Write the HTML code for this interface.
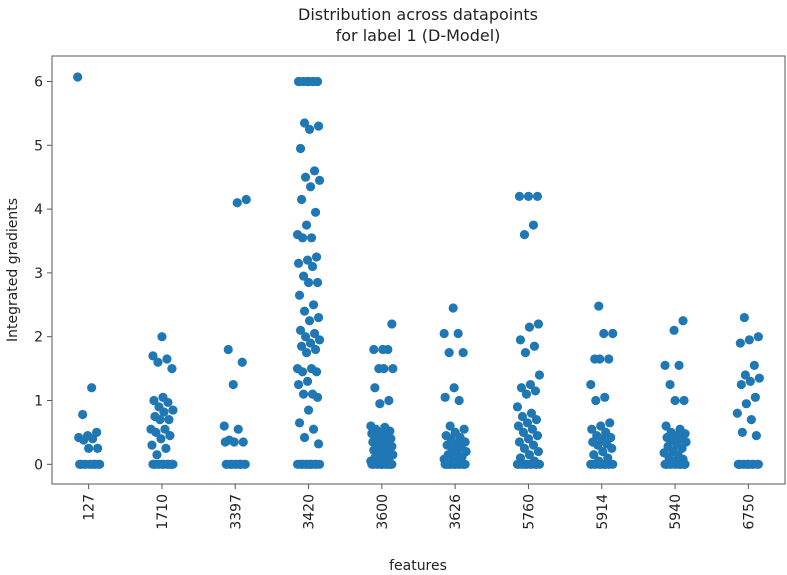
<!DOCTYPE html>
<html><head><meta charset="utf-8"><style>
body{margin:0;background:#fff;}
svg{display:block;font-family:"DejaVu Sans","Liberation Sans",sans-serif;}
</style></head><body>
<svg id="chart" width="787" height="575">
<text x="418" y="20" font-size="16" text-anchor="middle" fill="#222">Distribution across datapoints</text>
<text x="418" y="41" font-size="16" text-anchor="middle" fill="#222">for label 1 (D-Model)</text>
<text transform="translate(17,270) rotate(-90)" font-size="14" text-anchor="middle" fill="#222">Integrated gradients</text>
<text x="418" y="570" font-size="14" text-anchor="middle" fill="#222">features</text>
<g id="axes"></g>
<g id="marks"></g>
<rect x="52" y="56" width="733" height="428" fill="none" stroke="#555" stroke-width="1"/>
</svg>
<script>
const categories=["127","1710","3397","3420","3600","3626","5760","5914","5940","6750"];
const yTicks=[0,1,2,3,4,5,6];
const v127=[6.07,1.2,0.78,0.5,0.45,0.42,0.4,0.38,0.25,0.25,0,0,0,0,0,0,0,0,0,0,0,0];
const v1710=[2.0,1.7,1.65,1.6,1.5,1.05,1.0,0.97,0.9,0.85,0.82,0.75,0.7,0.7,0.55,0.55,0.5,0.45,0.4,0.3,0.25,0.15,0,0,0,0,0,0,0,0,0,0,0,0,0,0];
const v3397=[4.15,4.1,1.8,1.6,1.25,0.6,0.55,0.38,0.35,0.35,0.35,0,0,0,0,0,0,0,0,0,0,0,0];
const v3420=[6,6,6,6,6,6,6,6,5.35,5.3,5.25,4.95,4.6,4.5,4.45,4.35,4.15,3.95,3.75,3.6,3.55,3.55,3.25,3.2,3.15,3.1,2.95,2.85,2.85,2.65,2.5,2.4,2.3,2.25,2.1,2.05,2.0,1.95,1.9,1.85,1.8,1.75,1.5,1.5,1.45,1.45,1.3,1.25,1.1,1.1,1.05,0.85,0.65,0.55,0.42,0.32,0,0,0,0,0,0,0,0,0,0,0,0,0,0];
const v3600=[2.2,1.8,1.8,1.8,1.5,1.5,1.5,1.2,1.0,0.95,0.6,0.58,0.55,0.52,0.5,0.48,0.45,0.42,0.4,0.38,0.35,0.33,0.3,0.28,0.25,0.22,0.2,0.18,0.15,0.12,0.1,0.08,0.05,0.05,0.03,0.02,0,0,0,0,0,0,0,0,0,0,0,0,0,0];
const v3626=[2.45,2.05,2.05,1.75,1.75,1.2,1.05,1.0,0.6,0.55,0.5,0.45,0.42,0.4,0.35,0.32,0.3,0.28,0.25,0.2,0.18,0.15,0.12,0.1,0.08,0.05,0,0,0,0,0,0,0,0,0,0,0,0,0,0];
const v5760=[4.2,4.2,4.2,3.75,3.6,2.2,2.15,1.95,1.85,1.75,1.4,1.25,1.2,1.15,1.1,0.9,0.8,0.75,0.7,0.65,0.6,0.55,0.5,0.45,0.4,0.35,0.3,0.25,0.2,0.15,0.1,0.05,0,0,0,0,0,0,0,0,0,0,0,0];
const v5914=[2.48,2.05,2.05,1.65,1.65,1.65,1.25,1.05,1.0,0.65,0.6,0.55,0.5,0.45,0.42,0.4,0.35,0.32,0.3,0.25,0.2,0.15,0.1,0.05,0,0,0,0,0,0,0,0,0,0,0,0];
const v5940=[2.25,2.1,1.55,1.55,1.25,1.0,1.0,0.6,0.55,0.5,0.48,0.45,0.42,0.4,0.38,0.35,0.3,0.28,0.25,0.2,0.18,0.15,0.1,0.08,0.05,0,0,0,0,0,0,0,0,0,0,0,0];
const v6750=[2.3,2.0,1.95,1.9,1.55,1.4,1.35,1.3,1.25,1.05,0.95,0.8,0.7,0.5,0.45,0,0,0,0,0,0,0,0,0,0,0,0];
const seriesValues=[v127,v1710,v3397,v3420,v3600,v3626,v5760,v5914,v5940,v6750];

const NS="http://www.w3.org/2000/svg";
const L=52,R=785,T=56,B=484,Y0=464.3,PX=63.8;
const step=(R-L)/categories.length;
function xScale(i){return L+step*(i+0.5);}
function yScale(v){return Y0-v*PX;}
const axes=document.getElementById('axes'),marks=document.getElementById('marks');
function mk(tag,attrs,parent){const e=document.createElementNS(NS,tag);for(const k in attrs)e.setAttribute(k,attrs[k]);parent.appendChild(e);return e;}
yTicks.forEach(t=>{
  const y=yScale(t);
  const ln=mk('line',{x1:L-5,x2:L,y1:y,y2:y,stroke:'#555'},axes);
  
  
  const tx=mk('text',{x:L-9,y:y+5,'font-size':14,'text-anchor':'end',fill:'#222'},axes);
  tx.textContent=t;
  
  
});
categories.forEach((c,i)=>{
  const x=xScale(i);
  const ln=mk('line',{x1:x,x2:x,y1:B,y2:B+5,stroke:'#555'},axes);
  
  
  const tx=mk('text',{transform:`translate(${x+5},${B+10}) rotate(-90)`,'font-size':14,'text-anchor':'end',fill:'#222'},axes);
  tx.textContent=c;
  
  
  seriesValues[i].forEach((v,j)=>{
    const jit=(((j*37+i*11)%23)/22-0.5)*22;
    const p=mk('circle',{cx:xScale(i)+jit,cy:yScale(v),r:4.6,fill:'#1f77b4'},marks);
    
    
  });
});
</script>
</body></html>
